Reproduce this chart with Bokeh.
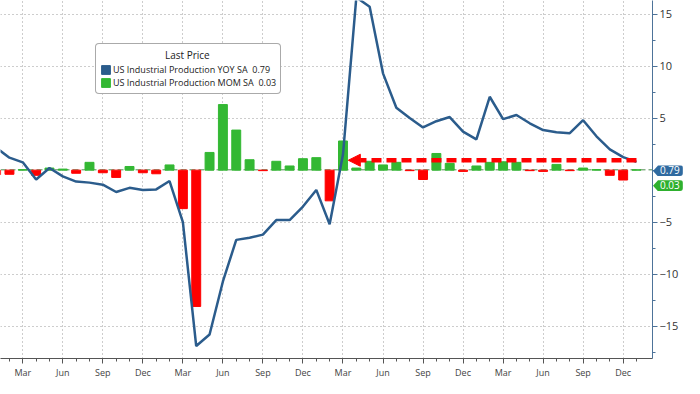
import numpy as np
from bokeh.plotting import figure
from bokeh.layouts import column
from bokeh.models import (ColumnDataSource, FixedTicker, Span, Arrow, Div,
                          NormalHead, Legend, LegendItem, Range1d)
from bokeh.embed import file_html
from bokeh.resources import INLINE

# ---------------- data ----------------
month_names = ["Jan", "Feb", "Mar", "Apr", "May", "Jun",
               "Jul", "Aug", "Sep", "Oct", "Nov", "Dec"]
periods = [(y, m) for y in range(2019, 2024) for m in range(12)][:49]  # Jan 2019 .. Jan 2023

yoy = [2.16, 1.2, 0.75, -0.9, 0.2, -0.6, -1.1, -1.2, -1.4, -2.1, -1.7, -1.9,
       -1.85, -1.05, -5.0, -16.9, -15.8, -10.7, -6.7, -6.5, -6.2, -4.8, -4.8, -3.5,
       -1.9, -5.2, 1.5, 16.6, 15.7, 9.3, 6.0, 5.0, 4.1, 4.7, 5.1, 3.7,
       2.95, 7.05, 4.9, 5.3, 4.5, 3.85, 3.65, 3.55, 4.8, 3.25, 2.0, 1.25,
       0.79]
mom = [-0.45, -0.4, 0.05, -0.5, 0.2, 0.1, -0.3, 0.75, -0.25, -0.7, 0.35, -0.25,
       -0.35, 0.5, -3.7, -13.1, 1.7, 6.3, 3.85, 1.0, -0.05, 0.85, 0.4, 1.1,
       1.2, -2.95, 2.8, 0.2, 0.85, 0.5, 0.75, -0.05, -0.9, 1.6, 0.65, -0.12,
       0.4, 0.75, 0.8, 0.75, -0.05, -0.12, 0.55, -0.05, 0.2, 0.05, -0.5, -0.95,
       0.03]
yoy_last = 0.79
mom_last = 0.03
series_names = ["US Industrial Production YOY SA", "US Industrial Production MOM SA"]
legend_title = "Last Price"
tick_month_names = ["Mar", "Jun", "Sep", "Dec"]
y_ticks = [-15, -10, -5, 0, 5, 10, 15]
# annotation arrow: from last month back to Mar 2021, at roughly the latest YoY level
arrow_from = 48
arrow_to = 26.4
arrow_level = 0.95

# ---------------- styling ----------------
BLUE = "#2b5c8c"
GREEN = "#33b833"
RED = "#ff0000"
GRID = "#9a9a9a"
FW, FH = 652, 358  # frame size
Y0, Y1 = -18.1, 16.3

x = list(range(len(periods)))
colors = [GREEN if v >= 0 else RED for v in mom]
src = ColumnDataSource(dict(x=x, mom=mom, color=colors))

p = figure(frame_width=FW, frame_height=FH, output_backend="svg", toolbar_location=None,
           x_range=Range1d(0.33, 49.2), y_range=Range1d(Y0, Y1),
           y_axis_location="right",
           min_border_left=0, min_border_top=0, min_border_right=0, min_border_bottom=0,
           background_fill_color="white", border_fill_color="white",
           outline_line_color=None, margin=0)

# grids
major_x = [i for i, (yy, mm) in enumerate(periods) if month_names[mm] in tick_month_names]
p.xgrid.ticker = FixedTicker(ticks=major_x)
p.ygrid.ticker = FixedTicker(ticks=[t for t in y_ticks if t != 0])
for g in (p.xgrid, p.ygrid):
    g.grid_line_color = GRID
    g.grid_line_dash = "1 3"
    g.grid_line_width = 1

# last-value line for MoM
p.add_layout(Span(location=mom_last, dimension="width", line_color="#4f8a4f",
                  line_dash="6 3", line_width=1, level="underlay"))

# bars and line
p.vbar(x="x", top="mom", bottom=0, width=0.67, color="color", source=src)
p.line(x, yoy, line_color=BLUE, line_width=2.5)

# arrow annotation
p.add_layout(Arrow(end=NormalHead(size=12, fill_color=RED, line_color=RED),
                   x_start=arrow_from, y_start=arrow_level,
                   x_end=arrow_to, y_end=arrow_level,
                   line_color=RED, line_width=4.5, line_dash="10 5"))

# axes
xa = p.xaxis[0]
xa.ticker = FixedTicker(ticks=major_x, minor_ticks=x)
xa.major_label_overrides = {i: month_names[periods[i][1]] for i in major_x}
xa.major_label_text_font_size = "9px"
xa.major_label_text_color = "#444444"
xa.major_label_text_font = "Open Sans"
xa.axis_line_color = "#555555"
xa.major_tick_line_color = "#555555"
xa.minor_tick_line_color = "#555555"
xa.major_tick_out = 5
xa.major_tick_in = 0
xa.minor_tick_out = 3
xa.minor_tick_in = 0
xa.major_label_standoff = 2

ya = p.yaxis[0]
ya.ticker = FixedTicker(ticks=y_ticks, minor_ticks=[t + 2.5 for t in [-20] + y_ticks])
ya.major_label_overrides = {0: ""}
ya.major_label_text_font_size = "11px"
ya.major_label_text_color = "#333333"
ya.major_label_text_font = "Open Sans"
ya.axis_line_color = "#4d7399"
ya.major_tick_line_color = "#4d7399"
ya.minor_tick_line_color = "#4d7399"
ya.major_tick_out = 5
ya.major_tick_in = 0
ya.minor_tick_out = 3
ya.minor_tick_in = 0
ya.major_label_standoff = 2

# legend (square swatches from off-screen quads)
r1 = p.quad(left=[-1000], right=[-999], top=[1], bottom=[0], color=BLUE)
r2 = p.quad(left=[-1000], right=[-999], top=[1], bottom=[0], color=GREEN)
legend = Legend(items=[LegendItem(label=f"{series_names[0]}  {yoy_last:.2f}", renderers=[r1]),
                       LegendItem(label=f"{series_names[1]}  {mom_last:.2f}", renderers=[r2])],
                title="\u00a0" * 25 + legend_title, location=(95, FH - 94))
legend.title_text_font = "Open Sans"
legend.title_text_font_size = "10px"
legend.title_text_font_style = "normal"
legend.title_text_color = "#222222"
legend.label_text_font = "Open Sans"
legend.label_text_font_size = "9px"
legend.label_text_color = "#222222"
legend.label_height = 11
legend.glyph_height = 11
legend.glyph_width = 11
legend.label_standoff = 2
legend.spacing = 0
legend.padding = 4
legend.margin = 0
legend.title_standoff = 1
legend.border_line_color = "#555555"
legend.border_line_width = 1
legend.border_radius = 4
legend.background_fill_color = "white"
legend.background_fill_alpha = 1
p.add_layout(legend)

# last-value tags beside the right axis: an HTML overlay positioned from the y scale
TAG_H = 11
def y_to_px(v):
    return (Y1 - v) / (Y1 - Y0) * FH

tags = ""
# (value, colour, small nudge so the two tags sit apart)
for val, col, nudge in ((mom_last, "#2eb02e", 4.5), (yoy_last, "#2f6aa0", -2.5)):
    top = y_to_px(val) - TAG_H / 2 + nudge
    tags += (f'<div style="position:absolute;left:{FW + 1}px;top:{top:.1f}px;'
             f'height:{TAG_H}px;line-height:{TAG_H}px;padding:0 3px 0 7px;'
             f'background:{col};color:#ffffff;font-family:\'Open Sans\',sans-serif;'
             f'font-size:10px;white-space:nowrap;z-index:10;'
             f'clip-path:polygon(5px 0,100% 0,100% 100%,5px 100%,0 50%);'
             f'border-radius:0 3px 3px 0">{val:.2f}</div>')
overlay = Div(text=f'<div style="position:relative;width:0;height:0;overflow:visible">{tags}</div>',
              width=1, height=0, margin=0,
              styles={"z-index": "10", "overflow": "visible", "margin": "0", "padding": "0"})

layout = column(overlay, p, spacing=0, margin=0)
open("out.html", "w").write(file_html(layout, INLINE))
